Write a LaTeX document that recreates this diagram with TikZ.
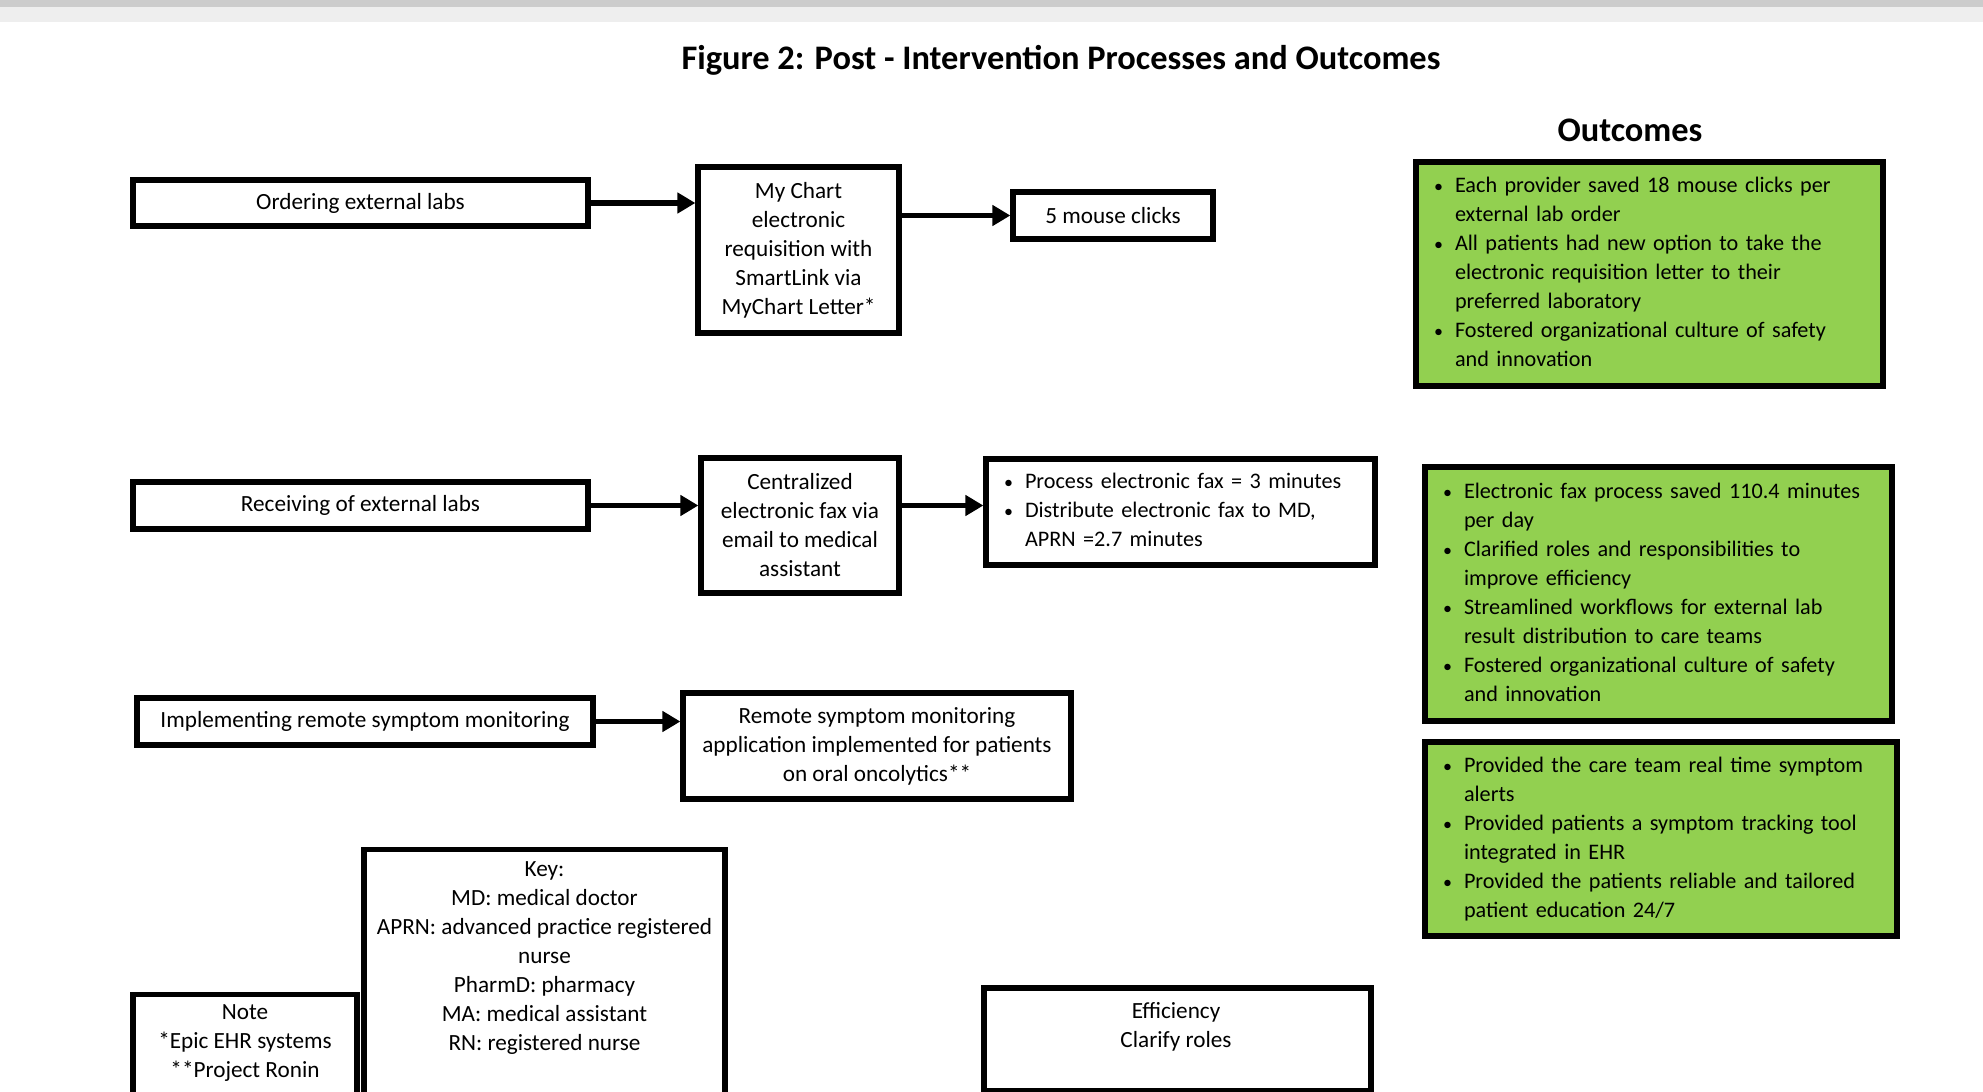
\documentclass[tikz,border=0pt]{standalone}
\usepackage{fontspec}
\setmainfont{Carlito}
\usetikzlibrary{arrows.meta}

\definecolor{outgreen}{HTML}{92D050}

\newcommand{\dotmark}{{\fontsize{9}{9}\selectfont\textbullet}}

\tikzset{
    flowbox/.style={draw, line width=2.6pt, fill=white, align=center,
        inner sep=0pt, font=\fontsize{11.6}{14.5}\selectfont},
    listbox/.style={flowbox, align=left, inner xsep=9pt,
        font=\fontsize{11.1}{14.5}\selectfont},
    outbox/.style={listbox, line width=3pt, fill=outgreen},
    flowarrow/.style={line width=2.6pt, -{Triangle[length=9pt,width=10pt]}},
    heading/.style={font=\bfseries\fontsize{17.2}{20}\selectfont}
}

\begin{document}
\begin{tikzpicture}[x=0.5pt, y=-0.5pt]
\useasboundingbox (0,0) rectangle (1983,1092);
\clip (0,0) rectangle (1983,1092);
\fill[white] (0,0) rectangle (1983,1092);
\fill[gray!40] (0,0) rectangle (1983,7);
\fill[gray!13] (0,7) rectangle (1983,22);

\node[heading] (title) at (1061,60) {Figure 2: Post - Intervention Processes and Outcomes};
\node[heading] (outtitle) at (1630,130) {Outcomes};

% ordering
\node[flowbox, minimum width=227.5pt, minimum height=23pt] (order) at (360.5,203) {Ordering external labs};
\node[flowbox, minimum width=100.5pt, minimum height=83pt] (mychart) at (798.5,250)
    {My Chart\\electronic\\requisition with\\SmartLink via\\MyChart Letter*};
\node[flowbox, minimum width=100pt, minimum height=23.5pt] (clicks) at (1113,215.5) {5 mouse clicks};
\draw[flowarrow] (order.east) -- (order.east -| mychart.west);
\draw[flowarrow] (mychart.east |- clicks.west) -- (clicks.west);

% receiving
\node[flowbox, minimum width=227.5pt, minimum height=23.5pt] (receive) at (360.5,505.5) {Receiving of external labs};
\node[flowbox, minimum width=99pt, minimum height=67.5pt] (central) at (800,525.5)
    {Centralized\\electronic fax via\\email to medical\\assistant};
\node[listbox, text width=176.5pt, minimum height=53pt] (faxtime) at (1180.5,512) {%
    \begin{tabular}{@{}p{10.5pt}@{}l@{}}
    \dotmark & Process electronic fax = 3 minutes\\
    \dotmark & Distribute electronic fax to MD,\\
     & APRN =2.7 minutes
    \end{tabular}};
\draw[flowarrow] (receive.east) -- (receive.east -| central.west);
\draw[flowarrow] (central.east |- receive.east) -- (faxtime.west |- receive.east);

% remote monitoring
\node[flowbox, minimum width=228pt, minimum height=23.5pt] (implement) at (365,721.5) {Implementing remote symptom monitoring};
\node[flowbox, minimum width=194pt, minimum height=53pt] (remote) at (877,746)
    {Remote symptom monitoring\\application implemented for patients\\on oral oncolytics**};
\draw[flowarrow] (implement.east) -- (implement.east -| remote.west);

% outcomes
\node[outbox, text width=215.5pt, minimum height=112pt] (labout) at (1649.5,274) {%
    \begin{tabular}{@{}p{10.5pt}@{}l@{}}
    \dotmark & Each provider saved 18 mouse clicks per\\
     & external lab order\\
    \dotmark & All patients had new option to take the\\
     & electronic requisition letter to their\\
     & preferred laboratory\\
    \dotmark & Fostered organizational culture of safety\\
     & and innovation
    \end{tabular}};
\node[outbox, text width=215.5pt, minimum height=127pt] (faxout) at (1658.5,594) {%
    \begin{tabular}{@{}p{10.5pt}@{}l@{}}
    \dotmark & Electronic fax process saved 110.4 minutes\\
     & per day\\
    \dotmark & Clarified roles and responsibilities to\\
     & improve efficiency\\
    \dotmark & Streamlined workflows for external lab\\
     & result distribution to care teams\\
    \dotmark & Fostered organizational culture of safety\\
     & and innovation
    \end{tabular}};
\node[outbox, text width=218pt, minimum height=97pt] (symout) at (1661,839) {%
    \begin{tabular}{@{}p{10.5pt}@{}l@{}}
    \dotmark & Provided the care team real time symptom\\
     & alerts\\
    \dotmark & Provided patients a symptom tracking tool\\
     & integrated in EHR\\
    \dotmark & Provided the patients reliable and tailored\\
     & patient education 24/7
    \end{tabular}};

% key, note, efficiency
\node[flowbox, anchor=north, minimum width=180.5pt, minimum height=200pt] (key) at (544.5,847) {};
\node[align=center, font=\fontsize{11.6}{14.5}\selectfont] (keytext) at (544.5,958)
    {Key:\\MD: medical doctor\\APRN: advanced practice registered\\nurse\\PharmD: pharmacy\\MA: medical assistant\\RN: registered nurse};
\node[flowbox, anchor=north, minimum width=112pt, minimum height=120pt] (note) at (245,992) {};
\node[align=center, font=\fontsize{11.6}{14.5}\selectfont] (notetext) at (245,1043)
    {Note\\*Epic EHR systems\\**Project Ronin};
\node[flowbox, minimum width=193.5pt, minimum height=51.5pt] (eff) at (1177.5,1039.5) {};
\node[align=center, font=\fontsize{11.6}{14.5}\selectfont] (efftext) at (1176,1027)
    {Efficiency\\Clarify roles};
\end{tikzpicture}
\end{document}
